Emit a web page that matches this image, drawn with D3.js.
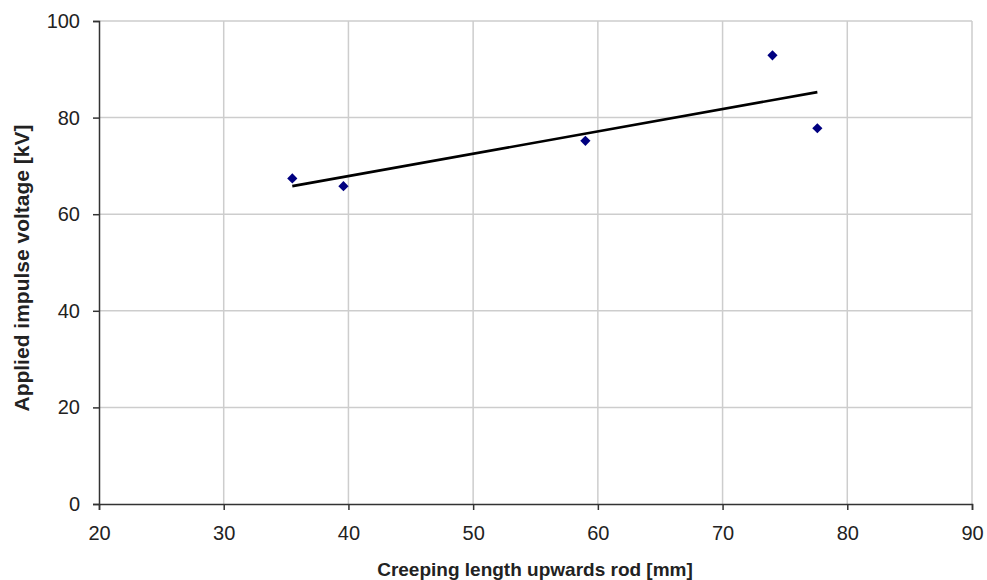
<!DOCTYPE html>
<html>
<head>
<meta charset="utf-8">
<script src="https://cdn.jsdelivr.net/npm/d3@7"></script>
<style>
	body { margin:0; background:#fff; }
	text { font-family: "Liberation Sans", Arial, sans-serif; }
</style>
</head>
<body>
<div id="chart"></div>
<script>
// measured points (creeping length vs. applied voltage)
var creepLength = [35.5, 39.6, 59.0, 74.0, 77.6];
var impulseKV = [67.4, 65.8, 75.2, 92.9, 77.8];
var xTicks = [20, 30, 40, 50, 60, 70, 80, 90];
var yTicks = [0, 20, 40, 60, 80, 100];

var width = 987, height = 580;
var margin = {top: 21, right: 15, bottom: 76, left: 99};
var w = width - margin.left - margin.right,
	h = height - margin.top - margin.bottom;

var svg = d3.select('#chart').append('svg')
	.attr('width', width)
	.attr('height', height);

var g = svg.append('g')
	.attr('transform', 'translate(' + margin.left + ',' + margin.top + ')');

var x = d3.scaleLinear().domain([20, 90]).range([0, w]);
var y = d3.scaleLinear().domain([0, 100]).range([h, 0]);

// gridlines
g.append('g').selectAll('line.vg')
	.data(xTicks.slice(1))
	.enter().append('line')
	.attr('x1', function(d){ return x(d); })
	.attr('x2', function(d){ return x(d); })
	.attr('y1', 0).attr('y2', h)
	.attr('stroke', '#cdcdcd').attr('stroke-width', 1.5);
g.append('g').selectAll('line.hg')
	.data(yTicks.slice(1))
	.enter().append('line')
	.attr('x1', 0).attr('x2', w)
	.attr('y1', function(d){ return y(d); })
	.attr('y2', function(d){ return y(d); })
	.attr('stroke', '#cdcdcd').attr('stroke-width', 1.5);

// axes
var xAxis = g.append('g')
	.attr('transform', 'translate(0,' + h + ')')
	.call(d3.axisBottom(x).tickValues(xTicks).tickSize(6).tickPadding(16).tickSizeOuter(6));
var yAxis = g.append('g')
	.call(d3.axisLeft(y).tickValues(yTicks).tickSize(6).tickPadding(13).tickSizeOuter(6));

[xAxis, yAxis].forEach(function(ax){
	ax.select('.domain').attr('stroke', '#333').attr('stroke-width', 1.5);
	ax.selectAll('.tick line').attr('stroke', '#333').attr('stroke-width', 1.5);
	ax.selectAll('.tick text')
		.attr('fill', '#222')
		.style('font-size', '20px')
		.style('font-family', '"Liberation Sans", Arial, sans-serif');
});

// linear trendline (least squares)
var mx = d3.mean(creepLength), my = d3.mean(impulseKV);
var sxy = 0, sxx = 0;
for(let a=0;a<creepLength.length;a++){
	sxy += (creepLength[a]-mx)*(impulseKV[a]-my);
	sxx += (creepLength[a]-mx)*(creepLength[a]-mx);
}
var slope = sxy/sxx, icpt = my - slope*mx;
var ext = d3.extent(creepLength);
g.append('line')
	.attr('x1', x(ext[0])).attr('y1', y(icpt + slope*ext[0]))
	.attr('x2', x(ext[1])).attr('y2', y(icpt + slope*ext[1]))
	.attr('stroke', '#000').attr('stroke-width', 2.6);

// diamond markers
var diamond = d3.symbol().type(d3.symbolSquare).size(52);
g.append('g').selectAll('path')
	.data(creepLength)
	.enter().append('path')
	.attr('d', diamond)
	.attr('transform', function(d, i){
		return 'translate(' + x(d) + ',' + y(impulseKV[i]) + ') rotate(45)';
	})
	.attr('fill', '#000080');

// axis titles
svg.append('text')
	.attr('x', 535)
	.attr('y', 576)
	.attr('text-anchor', 'middle')
	.style('font-size', '19px')
	.style('font-weight', 'bold')
	.attr('fill', '#222')
	.text('Creeping length upwards rod [mm]');

svg.append('text')
	.attr('transform', 'translate(29,268) rotate(-90)')
	.attr('text-anchor', 'middle')
	.style('font-size', '21px')
	.style('font-weight', 'bold')
	.attr('fill', '#222')
	.text('Applied impulse voltage [kV]');
</script>
</body>
</html>
